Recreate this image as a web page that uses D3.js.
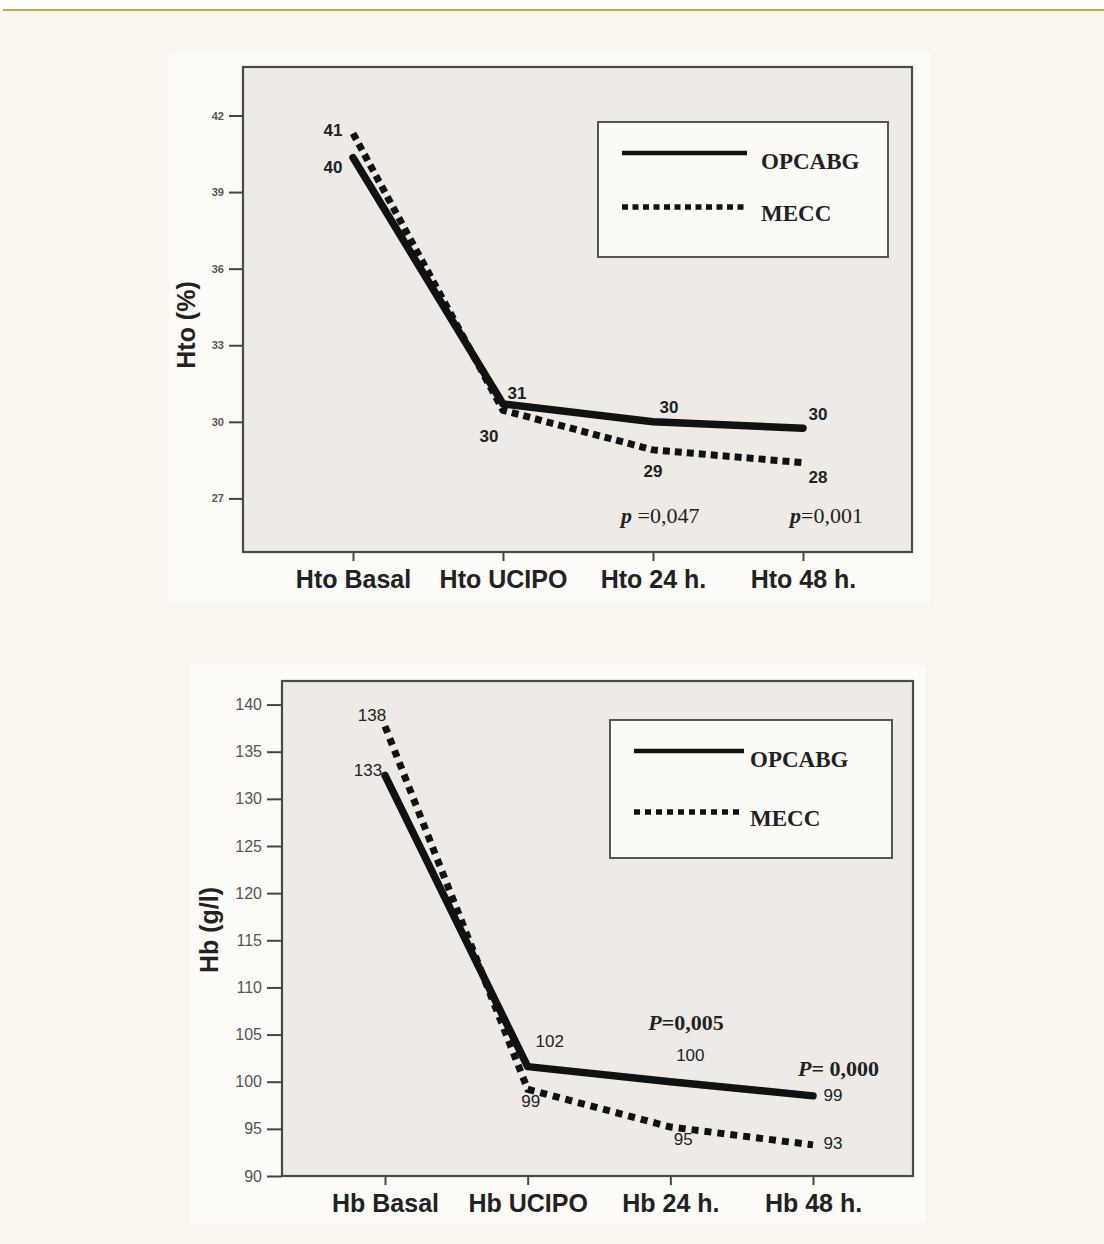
<!DOCTYPE html>
<html>
<head>
<meta charset="utf-8">
<script src="https://cdn.jsdelivr.net/npm/d3@7"></script>
<style>
  body { margin: 0; background: #ffffff; }
</style>
</head>
<body>
<div id="chart"></div>
<script>
// ---- data ----
var seriesNames = ["OPCABG", "MECC"];

var htoCats = ["Hto Basal", "Hto UCIPO", "Hto 24 h.", "Hto 48 h."];
var htoTicks = [27, 30, 33, 36, 39, 42];
var htoOpcabg = [40.35, 30.7, 30.0, 29.75];
var htoMecc = [41.3, 30.45, 28.9, 28.4];
var htoOpcabgLabels = ["40", "31", "30", "30"];
var htoMeccLabels = ["41", "30", "29", "28"];
var htoP = ["", "", " =0,047", "=0,001"];

var hbCats = ["Hb Basal", "Hb UCIPO", "Hb 24 h.", "Hb 48 h."];
var hbTicks = [90, 95, 100, 105, 110, 115, 120, 125, 130, 135, 140];
var hbOpcabg = [132.5, 101.6, 100.0, 98.5];
var hbMecc = [137.7, 99.2, 95.2, 93.3];
var hbOpcabgLabels = ["133", "102", "100", "99"];
var hbMeccLabels = ["138", "99", "95", "93"];
var hbP = ["", "", "=0,005", "= 0,000"];

var W = 1104, H = 1244;
var svg = d3.select("#chart").append("svg").attr("width", W).attr("height", H);

// page background + gold rule
svg.append("rect").attr("x", 0).attr("y", 0).attr("width", W).attr("height", H).attr("fill", "#f9f5ef");
svg.append("rect").attr("x", 0).attr("y", 0).attr("width", W).attr("height", 9).attr("fill", "#ffffff");
svg.append("rect").attr("x", 3).attr("y", 9).attr("width", W - 3).attr("height", 2).attr("fill", "#d4a24a");

function drawChart(cfg) {
  // lighter picture panel
  svg.append("rect").attr("x", cfg.panel[0]).attr("y", cfg.panel[1])
    .attr("width", cfg.panel[2]).attr("height", cfg.panel[3]).attr("fill", "#fdfbf7");

  var g = svg.append("g");
  var x = d3.scalePoint().domain(cfg.cats).range(cfg.xr);
  var y = d3.scaleLinear().domain(cfg.yd).range([cfg.box.bottom, cfg.box.top]);

  g.append("rect").attr("x", cfg.box.left).attr("y", cfg.box.top)
    .attr("width", cfg.box.right - cfg.box.left).attr("height", cfg.box.bottom - cfg.box.top)
    .attr("fill", "#eeebe6").attr("stroke", "#4a4a4a").attr("stroke-width", 2.2);

  // y axis
  var ya = g.append("g").attr("transform", "translate(" + cfg.box.left + ",0)")
    .call(d3.axisLeft(y).tickValues(cfg.ticks).tickSize(cfg.tickLen).tickSizeOuter(0).tickPadding(5));
  ya.select(".domain").remove();
  ya.selectAll(".tick line").attr("stroke", "#444").attr("stroke-width", 2);
  ya.selectAll(".tick text").attr("font-family", "Arial, 'Liberation Sans', sans-serif")
    .attr("font-size", cfg.tickFont).attr("fill", "#555").attr("font-weight", cfg.tickWeight);

  // x axis
  var xa = g.append("g").attr("transform", "translate(0," + cfg.box.bottom + ")")
    .call(d3.axisBottom(x).tickSize(9).tickSizeOuter(0).tickPadding(9));
  xa.select(".domain").remove();
  xa.selectAll(".tick line").attr("stroke", "#444").attr("stroke-width", 2);
  xa.selectAll(".tick text").attr("font-family", "Arial, 'Liberation Sans', sans-serif")
    .attr("font-size", 25).attr("font-weight", "bold").attr("fill", "#222");

  // y title
  g.append("text").attr("transform", "translate(" + cfg.titleX + "," + cfg.titleY + ") rotate(-90)")
    .attr("text-anchor", "middle").attr("font-family", "Arial, 'Liberation Sans', sans-serif")
    .attr("font-size", 25).attr("font-weight", "bold").attr("fill", "#222").text(cfg.title);

  var line = d3.line().x(function (d, i) { return x(cfg.cats[i]); }).y(function (d) { return y(d); });

  g.append("path").datum(cfg.mecc).attr("d", line).attr("fill", "none")
    .attr("stroke", "#111").attr("stroke-width", 7).attr("stroke-dasharray", cfg.dash);
  g.append("path").datum(cfg.opcabg).attr("d", line).attr("fill", "none")
    .attr("stroke", "#111").attr("stroke-width", 7.5).attr("stroke-linejoin", "round").attr("stroke-linecap", "round");

  // value labels
  function labels(vals, texts, offs) {
    g.selectAll(null).data(vals).enter().append("text")
      .attr("x", function (d, i) { return x(cfg.cats[i]) + offs[i][0]; })
      .attr("y", function (d, i) { return y(d) + offs[i][1]; })
      .attr("text-anchor", "middle").attr("dominant-baseline", "central")
      .attr("font-family", "Arial, 'Liberation Sans', sans-serif")
      .attr("font-size", cfg.labelFont).attr("font-weight", cfg.labelWeight).attr("fill", "#222")
      .text(function (d, i) { return texts[i]; });
  }
  labels(cfg.opcabg, cfg.opLabels, cfg.opOffs);
  labels(cfg.mecc, cfg.meLabels, cfg.meOffs);

  // p values
  cfg.p.forEach(function (p, i) {
    if (!p) return;
    var t = g.append("text").attr("x", x(cfg.cats[i]) + cfg.pOffs[i][0]).attr("y", cfg.pOffs[i][1])
      .attr("dominant-baseline", "central")
      .attr("font-family", "'Liberation Serif', 'Times New Roman', serif")
      .attr("font-size", 22).attr("font-weight", cfg.pWeight).attr("fill", "#222")
      .attr("xml:space", "preserve").style("white-space", "pre");
    t.append("tspan").attr("font-style", "italic").attr("font-weight", "bold").text(cfg.pLetter);
    t.append("tspan").text(p);
  });

  // legend
  var L = cfg.legend;
  g.append("rect").attr("x", L.x).attr("y", L.y).attr("width", L.w).attr("height", L.h)
    .attr("fill", "#fcfaf6").attr("stroke", "#555").attr("stroke-width", 2);
  seriesNames.forEach(function (name, i) {
    var ly = L.y + L.rows[i];
    g.append("line").attr("x1", L.x + 24).attr("x2", L.x + 24 + L.len[i]).attr("y1", ly).attr("y2", ly)
      .attr("stroke", "#111").attr("stroke-width", i === 0 ? 4.5 : 5.5)
      .attr("stroke-dasharray", i === 0 ? null : L.dash);
    g.append("text").attr("x", L.x + L.textX).attr("y", ly + (i === 0 ? 8 : 6))
      .attr("dominant-baseline", "central")
      .attr("font-family", "'Liberation Serif', 'Times New Roman', serif")
      .attr("font-size", 23).attr("font-weight", "bold").attr("fill", "#222").text(name);
  });
}

drawChart({
  panel: [169, 52, 760, 551],
  cats: htoCats, xr: [353, 803],
  yd: [24.9, 43.9], ticks: htoTicks,
  box: { left: 243, right: 912, top: 67, bottom: 552 },
  tickLen: 14, tickFont: 11, tickWeight: "bold",
  title: "Hto (%)", titleX: 195, titleY: 325,
  opcabg: htoOpcabg, mecc: htoMecc,
  opLabels: htoOpcabgLabels, meLabels: htoMeccLabels,
  opOffs: [[-20, 10], [14, -10], [16, -14], [15, -14]],
  meOffs: [[-20, -3], [-14, 26], [0, 22], [15, 15]],
  labelFont: 17, labelWeight: "bold",
  dash: "7,5",
  p: htoP, pLetter: "p", pWeight: "normal",
  pOffs: [[0, 0], [0, 0], [-32, 515], [-13, 515]],
  legend: { x: 598, y: 122, w: 290, h: 135, rows: [31, 85], len: [125, 121.5], textX: 163, dash: "6,4.5" }
});

drawChart({
  panel: [190, 665, 735, 558],
  cats: hbCats, xr: [385, 813],
  yd: [90, 142.5], ticks: hbTicks,
  box: { left: 282, right: 913, top: 681, bottom: 1176 },
  tickLen: 15, tickFont: 16, tickWeight: "normal",
  title: "Hb (g/l)", titleX: 218, titleY: 930,
  opcabg: hbOpcabg, mecc: hbMecc,
  opLabels: hbOpcabgLabels, meLabels: hbMeccLabels,
  opOffs: [[-17, -5], [22, -25], [20, -26], [20, 0]],
  meOffs: [[-13, -11], [3, 12], [13, 13], [20, -1]],
  labelFont: 17, labelWeight: "normal",
  dash: "7,6",
  p: hbP, pLetter: "P", pWeight: "bold",
  pOffs: [[0, 0], [0, 0], [-22, 1022], [-15, 1068]],
  legend: { x: 610, y: 720, w: 282, h: 138, rows: [31, 92], len: [110, 105], textX: 140, dash: "6,5" }
});
</script>
</body>
</html>
